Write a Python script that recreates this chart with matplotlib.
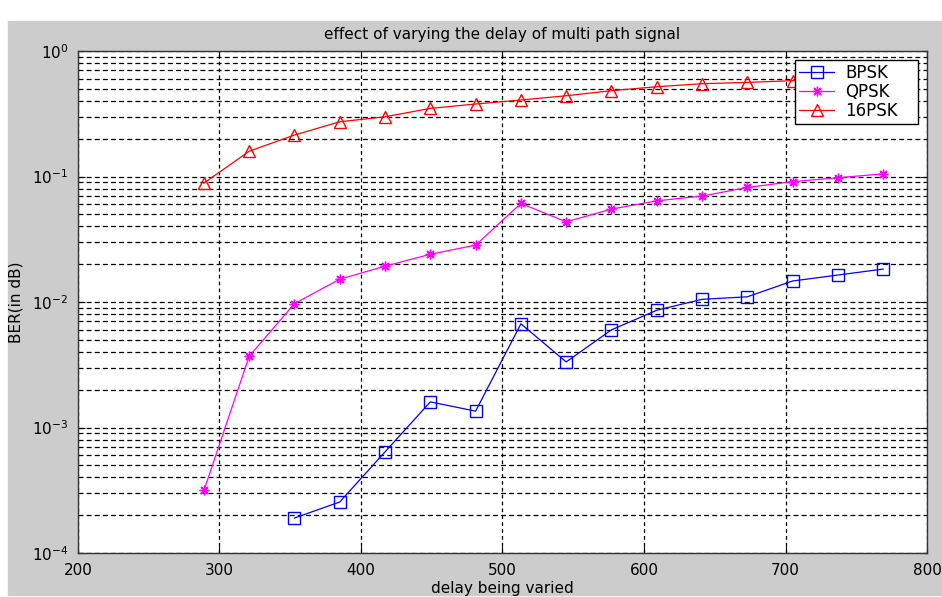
import numpy as np
import matplotlib
matplotlib.use('Agg')
import matplotlib.pyplot as plt
from matplotlib.patches import Rectangle
from matplotlib.ticker import LogLocator, FixedLocator

plt.rcParams['font.family'] = ['DejaVu Sans']
plt.rcParams['axes.unicode_minus'] = False
plt.rcParams['mathtext.fontset'] = 'dejavusans'
plt.rcParams['mathtext.default'] = 'regular'

# delay values (x axis)
delay_bpsk = [353, 385, 417, 449, 481, 513, 545, 577, 609, 641, 673, 705, 737, 769]
delay_qpsk = [289, 321, 353, 385, 417, 449, 481, 513, 545, 577, 609, 641, 673, 705, 737, 769]
delay_16psk = [289, 321, 353, 385, 417, 449, 481, 513, 545, 577, 609, 641, 673, 705, 737, 769]

# BER
ber_bpsk = [1.90e-4, 2.55e-4, 6.4e-4, 1.60e-3, 1.35e-3, 6.7e-3, 3.33e-3,
            6.0e-3, 8.6e-3, 1.05e-2, 1.10e-2, 1.47e-2, 1.64e-2, 1.83e-2]
ber_qpsk = [3.15e-4, 3.7e-3, 9.7e-3, 1.52e-2, 1.93e-2, 2.40e-2, 2.84e-2, 6.1e-2,
            4.35e-2, 5.5e-2, 6.4e-2, 6.98e-2, 8.18e-2, 9.1e-2, 9.77e-2, 1.05e-1]
ber_16psk = [0.0886, 0.159, 0.214, 0.273, 0.299, 0.349, 0.378, 0.407,
             0.440, 0.483, 0.519, 0.549, 0.562, 0.580, 0.600, 0.620]

W, H = 942, 597
fig = plt.figure(figsize=(W / 100, H / 100), dpi=100, facecolor='white')
# matlab style grey figure area
fig.patches.append(Rectangle((8 / W, 2 / H), 1 - 8 / W, (595 - 21) / H,
                             transform=fig.transFigure, color='#cccccc', zorder=-10))

ax = fig.add_axes([78 / W, (H - 553) / H, (927 - 78) / W, (553 - 51) / H])
ax.set_zorder(1)
ax.set_facecolor('white')

ax.plot(delay_bpsk, ber_bpsk, color='#0000ff', lw=0.9, marker='s', ms=8,
        mfc='none', mew=1.0, label='BPSK')
ax.plot(delay_qpsk, ber_qpsk, color='#ff00ff', lw=0.9, marker=(8, 2, 0), ms=7,
        mew=1.0, label='QPSK')
ax.plot(delay_16psk, ber_16psk, color='#ff0000', lw=0.9, marker='^', ms=9,
        mfc='none', mew=1.0, label='16PSK')

ax.set_yscale('log')
ax.set_xlim(200, 800)
ax.set_ylim(1e-4, 1)
ax.xaxis.set_major_locator(FixedLocator([200, 300, 400, 500, 600, 700, 800]))
ax.yaxis.set_major_locator(LogLocator(base=10, numticks=10))
ax.yaxis.set_minor_locator(LogLocator(base=10, subs=np.arange(2, 10), numticks=20))

ax.grid(True, which='major', axis='y', color='black', ls=(0, (4, 2.5)), lw=0.9)
ax.grid(True, which='minor', axis='y', color='black', ls=(0, (4, 2.5)), lw=0.9)
ax.grid(True, which='major', axis='x', color='black', ls=(0, (3, 2.5)), lw=0.9)

ax.tick_params(which='both', direction='in', top=True, right=True, colors='black',
               labelsize=11, pad=7)
ax.tick_params(which='major', length=5, width=0.8)
ax.tick_params(which='minor', length=2.5, width=0.6)
for s in ax.spines.values():
    s.set_color('#333333')
    s.set_linewidth(1.0)

ax.set_title('effect of varying the delay of multi path signal', fontsize=11, pad=9)
ax.set_xlabel('delay being varied', fontsize=11, labelpad=2)
ax.set_ylabel('BER(in dB)', fontsize=11, labelpad=6)

# legend box placed like the matlab one (upper right, a little wider)
leg_x0 = (795 - 78) / (927 - 78)
leg_w = (918 - 795) / (927 - 78)
leg_top = (553 - 60) / (553 - 51)
leg = ax.legend(loc='upper left', bbox_to_anchor=(leg_x0, leg_top - 0.2, leg_w, 0.2),
                mode='expand', borderaxespad=0, fontsize=12, numpoints=1,
                fancybox=False, framealpha=1, edgecolor='black',
                handlelength=2.1, handletextpad=0.65, labelspacing=0.05, borderpad=0.25)
leg.get_frame().set_linewidth(1.0)

fig.savefig('out.png', dpi=100, facecolor=fig.get_facecolor())
